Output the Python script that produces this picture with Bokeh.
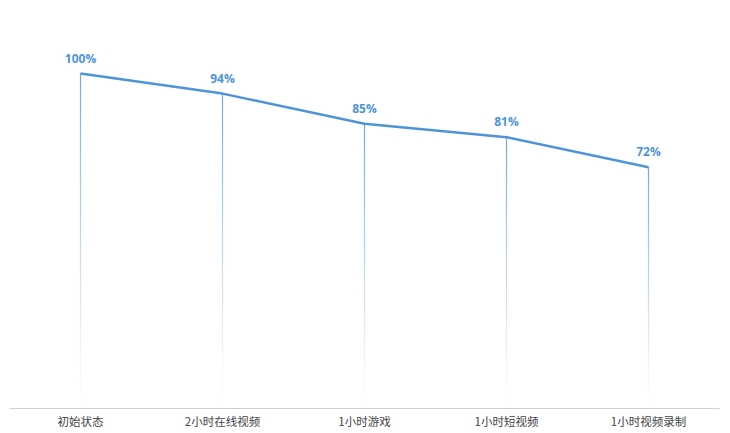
from bokeh.plotting import figure
from bokeh.models import ColumnDataSource, Range1d
from bokeh.embed import file_html
from bokeh.resources import INLINE
from bokeh.core.properties import value

categories = ["初始状态", "2小时在线视频", "1小时游戏", "1小时短视频", "1小时视频录制"]
battery = [100, 94, 85, 81, 72]
labels = ["100%", "94%", "85%", "81%", "72%"]

BLUE = "#4e94d8"

p = figure(x_range=categories, y_range=Range1d(0, 120), width=721, height=431,
           output_backend="svg", toolbar_location=None,
           min_border_left=9, min_border_right=2, min_border_top=6, min_border_bottom=22)
p.outline_line_color = None
p.background_fill_color = "white"
p.border_fill_color = "white"
p.xgrid.grid_line_color = None
p.ygrid.grid_line_color = None
p.yaxis.visible = False
p.xaxis.axis_line_color = "#d0d0d0"
p.xaxis.major_tick_line_color = None
p.xaxis.minor_tick_line_color = None
p.xaxis.major_tick_out = 0
p.xaxis.major_tick_in = 0
p.xaxis.major_label_text_font = "Noto Sans CJK SC"
p.xaxis.major_label_text_font_size = "11.5px"
p.xaxis.major_label_text_color = "#444444"
p.xaxis.major_label_standoff = 4

# fading vertical drop lines (split into pieces with decreasing alpha)
n = 40
x0, x1, y0, y1, al = [], [], [], [], []
for c, v in zip(categories, battery):
    for i in range(n):
        top = v * (1 - i / n)
        bot = v * (1 - (i + 1) / n)
        x0.append(c); x1.append(c); y0.append(top); y1.append(bot)
        al.append(0.8 * (1 - i / n) ** 1.2)
p.segment(x0=x0, y0=y0, x1=x1, y1=y1, line_color=BLUE, line_alpha=al, line_width=1.2)

src = ColumnDataSource(dict(x=categories, y=battery, t=labels))
p.line("x", "y", source=src, line_color=BLUE, line_width=2.5)
p.text("x", "y", text="t", source=src, text_align="center", text_baseline="bottom",
       y_offset=-7, text_color=BLUE, text_font=value("Open Sans"),
       text_font_size="12px", text_font_style="bold")

open("out.html", "w").write(file_html(p, INLINE))
